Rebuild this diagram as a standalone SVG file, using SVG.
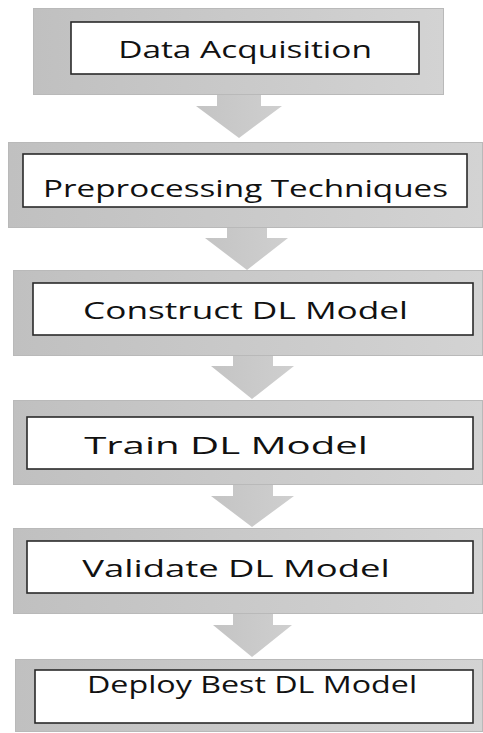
<svg xmlns="http://www.w3.org/2000/svg" width="483" height="733" viewBox="0 0 483 733">
  <defs>
    <linearGradient id="panelFill" x1="0" y1="0" x2="1" y2="0">
      <stop offset="0" stop-color="#c0c0c0"/>
      <stop offset="1" stop-color="#d3d3d3"/>
    </linearGradient>
    <linearGradient id="arrowFill" x1="0" y1="0" x2="1" y2="0">
      <stop offset="0" stop-color="#c4c4c4"/>
      <stop offset="1" stop-color="#cfcfcf"/>
    </linearGradient>
  </defs>
  <style>
    .panel { fill: url(#panelFill); stroke: #b9b9b9; stroke-width: 1; }
    .card { fill: #ffffff; stroke: #2a2a2a; stroke-width: 1.6; }
    .label { font-family: "Open Sans", "Noto Sans", "Liberation Sans", sans-serif; font-size: 23px; fill: #111111; text-anchor: middle; }
    .flow { fill: url(#arrowFill); stroke: none; }
  </style>
  <rect width="483" height="733" fill="#ffffff"/>

  <!-- down arrows between the steps -->
  <g id="connectors">
    <polygon class="flow" points="217,93 261,93 261,106 282,106 239,138 196,106 217,106"/>
    <polygon class="flow" points="227,226 267,226 267,238 288,238 247,270 205,238 227,238"/>
    <polygon class="flow" points="233,354 273,354 273,366 294,366 252,399 211,366 233,366"/>
    <polygon class="flow" points="233,483 273,483 273,496 294,496 252,527 211,496 233,496"/>
    <polygon class="flow" points="233,612 273,612 273,625 292,625 252,657 213,625 233,625"/>
  </g>

  <!-- labels are set in a wide face: glyphs scaled 1.25x horizontally -->
  <g id="step-acquisition">
    <rect class="panel" x="33.5" y="8.5" width="410" height="86"/>
    <rect class="card" x="71" y="22" width="348" height="52"/>
    <text class="label" transform="translate(245 58) scale(1.25 1)" textLength="203" lengthAdjust="spacingAndGlyphs">Data Acquisition</text>
  </g>

  <g id="step-preprocessing">
    <rect class="panel" x="8.5" y="142.5" width="474" height="85"/>
    <rect class="card" x="23" y="154" width="444" height="53"/>
    <text class="label" transform="translate(245.5 197) scale(1.25 1)" textLength="324" lengthAdjust="spacingAndGlyphs">Preprocessing Techniques</text>
  </g>

  <g id="step-construct">
    <rect class="panel" x="13.5" y="270.5" width="469" height="85"/>
    <rect class="card" x="33" y="283" width="440" height="52"/>
    <text class="label" transform="translate(245.5 319) scale(1.25 1)" textLength="260" lengthAdjust="spacingAndGlyphs">Construct DL Model</text>
  </g>

  <g id="step-train">
    <rect class="panel" x="13.5" y="400.5" width="469" height="84"/>
    <rect class="card" x="27" y="417" width="446" height="52"/>
    <text class="label" transform="translate(226 454) scale(1.25 1)" textLength="227" lengthAdjust="spacingAndGlyphs">Train DL Model</text>
  </g>

  <g id="step-validate">
    <rect class="panel" x="13.5" y="528.5" width="469" height="85"/>
    <rect class="card" x="27" y="541" width="446" height="52"/>
    <text class="label" transform="translate(236 577) scale(1.25 1)" textLength="246" lengthAdjust="spacingAndGlyphs">Validate DL Model</text>
  </g>

  <g id="step-deploy">
    <rect class="panel" x="15.5" y="659.5" width="467" height="72"/>
    <rect class="card" x="35" y="670" width="438" height="53"/>
    <text class="label" transform="translate(252 693) scale(1.25 1)" textLength="264" lengthAdjust="spacingAndGlyphs">Deploy Best DL Model</text>
  </g>
</svg>
